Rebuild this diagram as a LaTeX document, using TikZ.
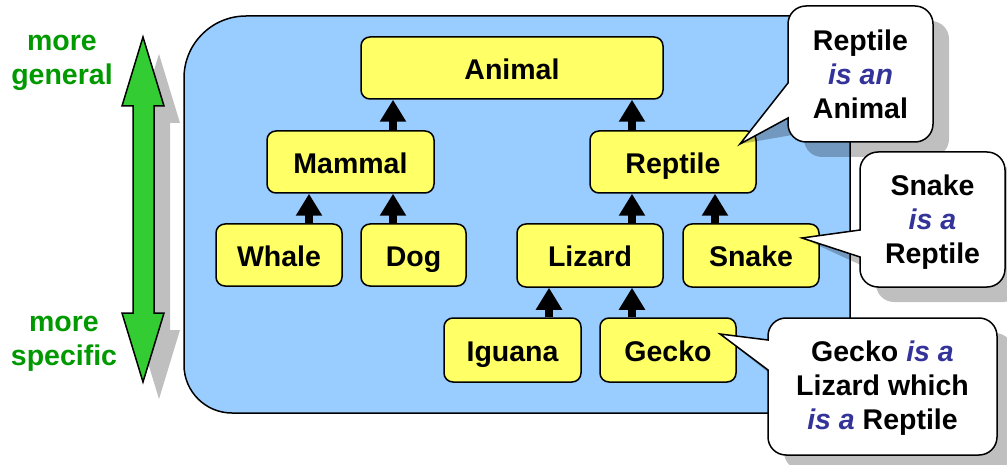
\documentclass[tikz,border=0pt]{standalone}
\usepackage{fontspec}
\setmainfont{Liberation Sans}
\usetikzlibrary{arrows.meta,calc}
\definecolor{panelblue}{HTML}{99CCFF}
\definecolor{boxyellow}{HTML}{FFFF66}
\definecolor{isacol}{HTML}{333399}
\definecolor{gentext}{HTML}{009900}
\definecolor{arrowgreen}{HTML}{33CC33}
\newcommand\ital[1]{{\itshape\color{isacol}#1}}
\newcommand\bubblepath[7]{%
 (#1,#5) -- (#7) -- (#1,#6) -- (#1,#4-18) arc[start angle=180,end angle=90,radius=18]
 -- (#3-18,#4) arc[start angle=90,end angle=0,radius=18]
 -- (#3,#2+18) arc[start angle=0,end angle=-90,radius=18]
 -- (#1+18,#2) arc[start angle=-90,end angle=-180,radius=18] -- cycle}
\newcommand\greenarrowpath{%
 (143,37) -- (164,106) -- (154,106) -- (154,313) -- (164,313) -- (143,382)
 -- (122,313) -- (133,313) -- (133,106) -- (122,106) -- cycle}
\begin{document}
\begin{tikzpicture}[x=1pt,y=-1pt,
  every node/.style={font=\fontsize{28.5}{34}\selectfont\bfseries},
  cls/.style={draw=black,line width=1.5pt,fill=boxyellow,rounded corners=9pt,
    inner sep=0pt,text height=23pt,text depth=0pt},
  isa/.style={line width=8pt,-{Triangle[width=25pt,length=22pt]}},
  shadow/.style={fill=black,opacity=0.25},
  bubble/.style={draw=black,line width=1.5pt,fill=white},
  lbl/.style={text=gentext,align=center,inner sep=0pt},
  note/.style={align=center,inner sep=0pt}]
\useasboundingbox (0,0) rectangle (1007,465);

% green double arrow with shadow
\fill[shadow,shift={(16,17)}] \greenarrowpath;
\draw[fill=arrowgreen,line width=1.5pt,line join=miter] \greenarrowpath;
\node[lbl] (general) at (62,63) {more\\general};
\node[lbl] (specific) at (64,344) {more\\specific};

% panel
\draw[fill=panelblue,line width=1.5pt] (850,16) -- (246,16)
  arc[start angle=270,end angle=180,radius=62] -- (184,365)
  arc[start angle=180,end angle=90,radius=48] -- (850,413) -- cycle;

% class nodes
\node[cls,minimum width=302pt,minimum height=62pt] (animal) at (512,68) {Animal};
\node[cls,minimum width=167pt,minimum height=62pt] (mammal) at (350.5,162) {Mammal};
\node[cls,minimum width=166pt,minimum height=62pt] (reptile) at (673,162) {Reptile};
\node[cls,minimum width=126pt,minimum height=62pt] (whale) at (279,255) {Whale};
\node[cls,minimum width=105pt,minimum height=62pt] (dog) at (413.5,255) {Dog};
\node[cls,minimum width=146pt,minimum height=63pt] (lizard) at (590,255.5) {Lizard};
\node[cls,minimum width=136pt,minimum height=63pt] (snake) at (751,255.5) {Snake};
\node[cls,minimum width=137pt,minimum height=64pt] (iguana) at (512.5,350) {Iguana};
\node[cls,minimum width=136pt,minimum height=64pt] (gecko) at (668,350) {Gecko};

% is-a connectors
\draw[isa] ($(mammal.north)+(42.5,0)$) -- ($(animal.south)+(-119,0)$);
\draw[isa] ($(reptile.north)+(-41,0)$) -- ($(animal.south)+(120,0)$);
\draw[isa] ($(whale.north)+(30,0)$) -- ($(mammal.south)+(-41.5,0)$);
\draw[isa] ($(dog.north)+(-20.5,0)$) -- ($(mammal.south)+(42.5,0)$);
\draw[isa] ($(lizard.north)+(42,0)$) -- ($(reptile.south)+(-41,0)$);
\draw[isa] ($(snake.north)+(-36,0)$) -- ($(reptile.south)+(42,0)$);
\draw[isa] ($(iguana.north)+(36.5,0)$) -- ($(lizard.south)+(-41,0)$);
\draw[isa] ($(gecko.north)+(-36,0)$) -- ($(lizard.south)+(42,0)$);

% callouts
\coordinate (tipreptile) at (740,144);
\coordinate (tipsnake) at (802,238);
\coordinate (tipgecko) at (720,334);

\fill[shadow,shift={(16,15)}] \bubblepath{788}{6}{933}{142}{83}{118}{tipreptile};
\draw[bubble] \bubblepath{788}{6}{933}{142}{83}{118}{tipreptile};
\node[note] (noteReptile) at (860.5,74.6) {Reptile\\\ital{is an}\\Animal};

\fill[shadow,shift={(16,15)}] \bubblepath{860}{152}{1005}{287}{230}{257}{tipsnake};
\draw[bubble] \bubblepath{860}{152}{1005}{287}{230}{257}{tipsnake};
\node[note] (noteSnake) at (932.5,222.6) {Snake\\\ital{is a}\\Reptile};

\fill[shadow,shift={(16,15)}] \bubblepath{768}{318}{997}{455}{340}{370}{tipgecko};
\draw[bubble] \bubblepath{768}{318}{997}{455}{340}{370}{tipgecko};
\node[note] (noteGecko) at (882.5,388.6) {Gecko \ital{is a}\\Lizard which\\\ital{is a} Reptile};
\end{tikzpicture}
\end{document}
